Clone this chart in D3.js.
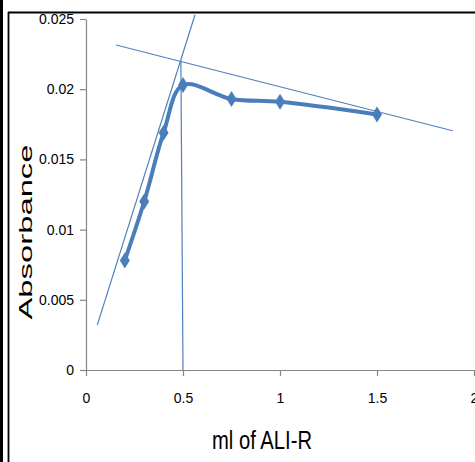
<!DOCTYPE html>
<html>
<head>
<meta charset="utf-8">
<script src="https://cdn.jsdelivr.net/npm/d3@7"></script>
<style>
  html, body { margin: 0; padding: 0; background: #fff; }
  svg { display: block; }
</style>
</head>
<body>
<div id="chart"></div>
<script>
// ---- data ----
const volume     = [0.2, 0.3, 0.4, 0.5, 0.75, 1.0, 1.5];
const absorbance = [0.0078, 0.012, 0.0169, 0.0203, 0.0193, 0.0191, 0.0182];

// hand-drawn construction lines (ml, absorbance end points)
const riseX = [0.058, 0.562],  riseY = [0.0032, 0.0253];
const fallX = [0.155, 1.89],   fallY = [0.02315, 0.01704];
const dropX = [0.489, 0.5],    dropY = [0.0220, 0];

const xTicks = [0, 0.5, 1, 1.5, 2];
const yTicks = [0, 0.005, 0.01, 0.015, 0.02, 0.025];

const W = 475, H = 462;
const blue = '#4a7ebb', thin = '#4f81bd', axisGrey = '#868686';
const tickFont = '"Liberation Sans Narrow", "Arial Narrow", sans-serif';

const svg = d3.select('#chart').append('svg')
  .attr('width', W).attr('height', H);

/* -------- outer frame (left + top black rules) -------- */
svg.append('rect').attr('x', 0).attr('y', 0).attr('width', 3).attr('height', H).attr('fill', '#000');
svg.append('line').attr('x1', 8.5).attr('x2', 8.5).attr('y1', 12).attr('y2', H)
  .attr('stroke', '#000').attr('stroke-width', 1.8);
svg.append('line').attr('x1', 8).attr('x2', W).attr('y1', 12.5).attr('y2', 12.5)
  .attr('stroke', '#000').attr('stroke-width', 2);

/* -------- scales -------- */
const x = d3.scaleLinear().domain([0, 2]).range([86, 474]);
const y = d3.scaleLinear().domain([0, 0.025]).range([370, 19]);

/* -------- axes -------- */
const yAxis = svg.append('g').attr('transform', `translate(${x(0)},0)`)
  .call(d3.axisLeft(y).tickValues(yTicks).tickFormat(d => d === 0 ? '0' : String(+d.toFixed(3)))
    .tickSize(6).tickPadding(6).tickSizeOuter(0));
const xAxis = svg.append('g').attr('transform', `translate(0,${y(0)})`)
  .call(d3.axisBottom(x).tickValues(xTicks).tickFormat(d => String(d))
    .tickSize(6).tickPadding(17).tickSizeOuter(0));

[xAxis, yAxis].forEach(a => {
  a.select('.domain').attr('stroke', axisGrey).attr('stroke-width', 1.2);
  a.selectAll('.tick line').attr('stroke', axisGrey).attr('stroke-width', 1.2);
  a.selectAll('.tick text').attr('fill', '#000')
    .style('font-family', tickFont).style('font-size', '14px');
});

/* -------- construction lines -------- */
const seg = (xs, ys) => d3.line()(xs.map((v, i) => [x(v), y(ys[i])]));
[[riseX, riseY], [fallX, fallY], [dropX, dropY]].forEach(([xs, ys]) => {
  svg.append('path').attr('d', seg(xs, ys))
    .attr('fill', 'none').attr('stroke', thin).attr('stroke-width', 1.2);
});

/* -------- data series (smoothed) -------- */
const pts = volume.map((v, i) => [x(v), y(absorbance[i])]);
svg.append('path')
  .attr('d', d3.line().curve(d3.curveCatmullRom.alpha(0.5))(pts))
  .attr('fill', 'none').attr('stroke', blue).attr('stroke-width', 4)
  .attr('stroke-linejoin', 'round');

svg.selectAll('path.marker').data(pts).enter().append('path')
  .attr('class', 'marker')
  .attr('d', d => `M${d[0]},${d[1] - 8}L${d[0] + 5},${d[1]}L${d[0]},${d[1] + 8}L${d[0] - 5},${d[1]}Z`)
  .attr('fill', blue);

/* -------- axis titles -------- */
svg.append('text')
  .attr('transform', 'translate(32,232) rotate(-90)')
  .attr('text-anchor', 'middle')
  .attr('textLength', 175).attr('lengthAdjust', 'spacingAndGlyphs')
  .style('font-family', '"Liberation Sans", Arial, sans-serif')
  .style('font-size', '19px')
  .text('Absorbance');

svg.append('text')
  .attr('x', 212).attr('y', 449)
  .attr('textLength', 100).attr('lengthAdjust', 'spacingAndGlyphs')
  .style('font-family', tickFont)
  .style('font-size', '25px')
  .text('ml of ALI-R');
</script>
</body>
</html>
